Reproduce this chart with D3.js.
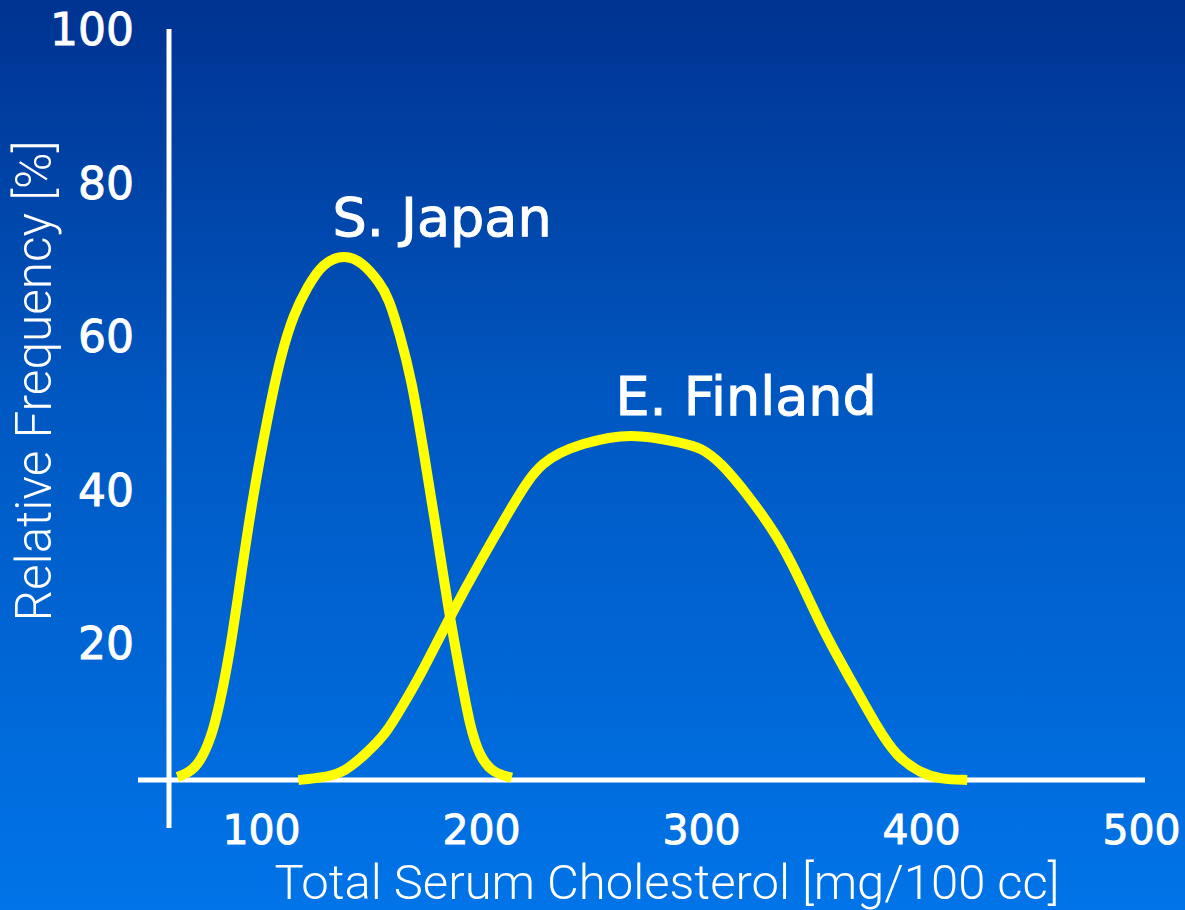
<!DOCTYPE html>
<html>
<head>
<meta charset="utf-8">
<script src="https://cdn.jsdelivr.net/npm/d3@7"></script>
<style>
  body { margin: 0; background: #0060cc; }
  svg { display: block; }
</style>
</head>
<body>
<div id="chart"></div>
<script>
// Values (cholesterol mg/100 cc, relative frequency %)
const japanX = [62, 67, 72, 77, 81, 86, 90, 96, 103, 109, 115, 121, 128, 138, 146, 154, 158, 163, 168.5, 173.6, 179, 185, 190.5, 195, 199.5, 205.5, 214];
const japanY = [0.4, 0.9, 2.2, 5.2, 9.5, 16.9, 24.8, 36.5, 47.3, 55.4, 60.8, 64.2, 67.4, 68.5, 67.5, 64.8, 62.8, 58.2, 52.1, 43.4, 33.9, 22.5, 13.9, 6.9, 3, 0.9, 0.3];
const finlandX = [117, 128, 138, 148, 157, 164, 173, 185, 200, 215, 227, 246, 268, 292, 300, 309, 322, 335, 345, 357, 369, 380, 389, 400, 409, 421];
const finlandY = [0, 0.3, 1, 3.5, 6.1, 9.5, 13.9, 20.8, 28.7, 36.1, 41.7, 43.9, 45.3, 43.9, 43.3, 41.4, 36.9, 31.7, 26.1, 18.6, 12.6, 6.9, 3, 0.9, 0.1, 0];
const xTicks = [100, 200, 300, 400, 500];
const yTicks = [20, 40, 60, 80, 100];
const seriesLabels = ["S. Japan", "E. Finland"];
const labelAt = [[182.3, 70.9], [320.5, 47.6]]; // label anchor in data units
const xTitle = "Total Serum Cholesterol [mg/100 cc]";
const yTitle = "Relative Frequency [%]";

const width = 1185, height = 910;

const svg = d3.select("#chart").append("svg")
    .attr("width", width)
    .attr("height", height);

const defs = svg.append("defs");
const grad = defs.append("linearGradient")
    .attr("id", "bg")
    .attr("x1", 0).attr("y1", 0).attr("x2", 0).attr("y2", 1);
grad.append("stop").attr("offset", "0%").attr("stop-color", "#003391");
grad.append("stop").attr("offset", "45%").attr("stop-color", "#0058c2");
grad.append("stop").attr("offset", "100%").attr("stop-color", "#0074e8");

svg.append("rect")
    .attr("width", width).attr("height", height)
    .attr("fill", "url(#bg)");

const x = d3.scaleLinear().domain([0, 500]).range([41, 1141]);
const y = d3.scaleLinear().domain([0, 100]).range([780, 12.5]);

const axisX = 169; // vertical axis position (px)

// axis lines
svg.append("line")
    .attr("x1", 138).attr("x2", 1145)
    .attr("y1", y(0)).attr("y2", y(0))
    .attr("stroke", "white").attr("stroke-width", 5);
svg.append("line")
    .attr("x1", axisX).attr("x2", axisX)
    .attr("y1", 29).attr("y2", 828)
    .attr("stroke", "white").attr("stroke-width", 5);

// tick labels
const gy = svg.append("g")
    .attr("transform", `translate(${axisX},0)`)
    .call(d3.axisLeft(y).tickValues(yTicks).tickSize(0).tickPadding(35));
gy.select(".domain").remove();
gy.selectAll("text")
    .attr("dy", "0")
    .attr("y", 16.5)
    .attr("dominant-baseline", "central")
    .attr("fill", "white")
    .attr("stroke", "white")
    .attr("stroke-width", 0.9)
    .style("font-family", "'DejaVu Sans', sans-serif")
    .style("font-size", "44px");

const gx = svg.append("g")
    .attr("transform", `translate(0,${y(0)})`)
    .call(d3.axisBottom(x).tickValues(xTicks).tickSize(0).tickPadding(0));
gx.select(".domain").remove();
gx.selectAll("text")
    .attr("dy", "0")
    .attr("y", 50)
    .attr("dominant-baseline", "central")
    .attr("fill", "white")
    .attr("stroke", "white")
    .attr("stroke-width", 0.9)
    .style("font-family", "'DejaVu Sans', sans-serif")
    .style("font-size", "41px");

// curves
const line = d3.line()
    .x(d => x(d[0]))
    .y(d => y(d[1]))
    .curve(d3.curveBasis);

const series = [d3.zip(japanX, japanY), d3.zip(finlandX, finlandY)];

svg.append("g").selectAll("path")
    .data(series)
    .join("path")
    .attr("d", line)
    .attr("fill", "none")
    .attr("stroke", "#ffff00")
    .attr("stroke-width", 10)
    .attr("stroke-linejoin", "round")
    .attr("stroke-linecap", "butt");

// series labels
svg.append("g").selectAll("text")
    .data(seriesLabels)
    .join("text")
    .attr("x", (d, i) => x(labelAt[i][0]))
    .attr("y", (d, i) => y(labelAt[i][1]))
    .attr("text-anchor", "middle")
    .attr("fill", "white")
    .attr("stroke", "white")
    .attr("stroke-width", 1)
    .style("font-family", "'DejaVu Sans', sans-serif")
    .style("font-size", "54px")
    .text(d => d);

// axis titles
svg.append("text")
    .attr("x", 667).attr("y", 899)
    .attr("text-anchor", "middle")
    .attr("fill", "white")
    .style("font-family", "Roboto, sans-serif")
    .style("font-weight", 300)
    .style("font-size", "49px")
    .text(xTitle);

svg.append("text")
    .attr("transform", "translate(51,381) rotate(-90)")
    .attr("text-anchor", "middle")
    .attr("fill", "white")
    .style("font-family", "Roboto, sans-serif")
    .style("font-weight", 300)
    .style("font-size", "49.5px")
    .text(yTitle);
</script>
</body>
</html>
